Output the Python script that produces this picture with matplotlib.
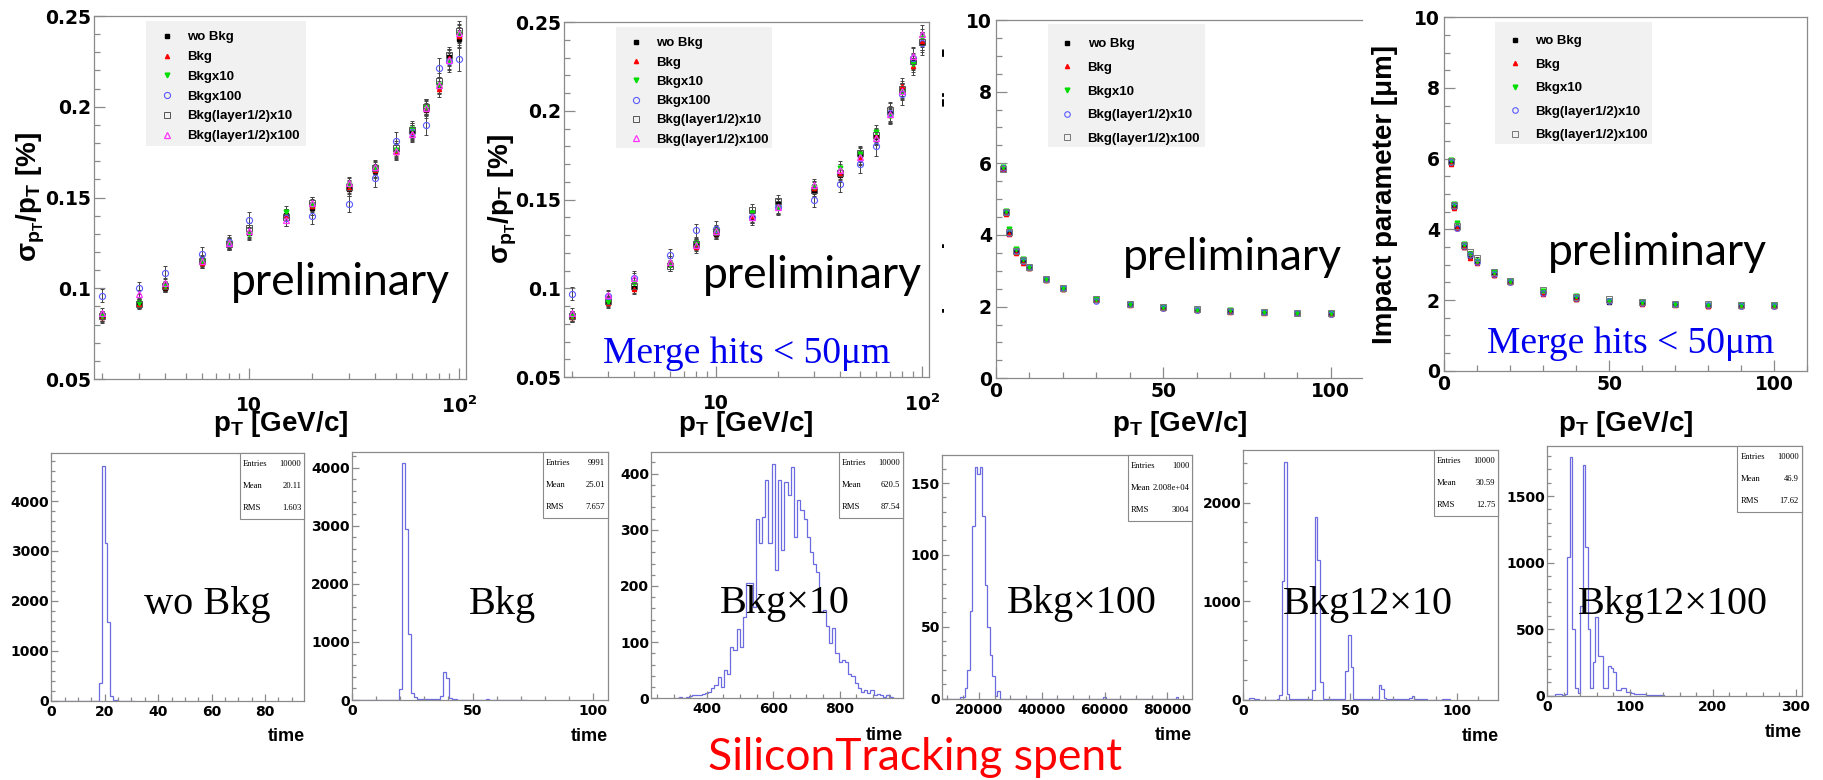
import numpy as np
import matplotlib
matplotlib.use("Agg")
import matplotlib.pyplot as plt
from matplotlib.patches import Rectangle
from matplotlib.transforms import Bbox, TransformedBbox
from matplotlib.ticker import (MultipleLocator, AutoMinorLocator, FixedLocator,
                               FixedFormatter, LogLocator, NullFormatter,
                               FormatStrFormatter)

plt.rcParams['font.family'] = ['Liberation Sans', 'DejaVu Sans']
plt.rcParams['font.weight'] = 'bold'
plt.rcParams['mathtext.fontset'] = 'custom'
plt.rcParams['mathtext.rm'] = 'Liberation Sans:bold'
plt.rcParams['mathtext.bf'] = 'Liberation Sans:bold'
plt.rcParams['mathtext.it'] = 'Liberation Sans:bold:italic'
plt.rcParams['mathtext.sf'] = 'DejaVu Sans:bold'

W, H = 1824, 780
FRAME = '#8a8a8a'
HIST = '#6b6bdf'
TICK_FONT = 'DejaVu Sans'

# ---- momentum points (GeV/c)
pt = [2, 3, 4, 6, 8, 10, 15, 20, 30, 40, 50, 60, 70, 80, 90, 100]

# ---- sigma(pT)/pT [%], default clustering
res1_wo = [0.0839, 0.0916, 0.1004, 0.1143, 0.1239, 0.1303, 0.1404, 0.1440, 0.1545, 0.1644, 0.1752, 0.1862, 0.1981, 0.2113, 0.2274, 0.2375]
res1_bkg = [0.0842, 0.0912, 0.1008, 0.1140, 0.1243, 0.1308, 0.1402, 0.1452, 0.1555, 0.1650, 0.1748, 0.1858, 0.1990, 0.2098, 0.2270, 0.2390]
res1_x10 = [0.0846, 0.0918, 0.1012, 0.1150, 0.1247, 0.1300, 0.1420, 0.1460, 0.1570, 0.1665, 0.1760, 0.1880, 0.2000, 0.2118, 0.2250, 0.2400]
res1_x100 = [0.0960, 0.1000, 0.1086, 0.1189, 0.1255, 0.1376, 0.1385, 0.1398, 0.1464, 0.1605, 0.1812, 0.1860, 0.1900, 0.2214, 0.2250, 0.2264]
res1_l10 = [0.0845, 0.0915, 0.1010, 0.1148, 0.1245, 0.1330, 0.1395, 0.1470, 0.1560, 0.1660, 0.1770, 0.1870, 0.2000, 0.2140, 0.2285, 0.2420]
res1_l100 = [0.0862, 0.0967, 0.1030, 0.1152, 0.1250, 0.1315, 0.1375, 0.1468, 0.1580, 0.1668, 0.1755, 0.1850, 0.1995, 0.2120, 0.2255, 0.2405]

# ---- sigma(pT)/pT [%], hits merged within 50 um
res2_wo = [0.0838, 0.0923, 0.1003, 0.1138, 0.1242, 0.1307, 0.1398, 0.1477, 0.1548, 0.1636, 0.1749, 0.1852, 0.1987, 0.2115, 0.2275, 0.2382]
res2_bkg = [0.0840, 0.0915, 0.0995, 0.1140, 0.1230, 0.1312, 0.1405, 0.1460, 0.1565, 0.1645, 0.1735, 0.1860, 0.1975, 0.2140, 0.2250, 0.2395]
res2_x10 = [0.0842, 0.0925, 0.1030, 0.1130, 0.1255, 0.1320, 0.1425, 0.1450, 0.1570, 0.1680, 0.1755, 0.1880, 0.1970, 0.2105, 0.2265, 0.2410]
res2_x100 = [0.0970, 0.0955, 0.1060, 0.1185, 0.1326, 0.1336, 0.1400, 0.1458, 0.1500, 0.1590, 0.1698, 0.1800, 0.1987, 0.2092, 0.2300, 0.2380]
res2_l10 = [0.0845, 0.0930, 0.1010, 0.1125, 0.1250, 0.1315, 0.1440, 0.1490, 0.1555, 0.1650, 0.1760, 0.1865, 0.2005, 0.2125, 0.2280, 0.2390]
res2_l100 = [0.0860, 0.0960, 0.1060, 0.1150, 0.1245, 0.1325, 0.1400, 0.1455, 0.1580, 0.1665, 0.1740, 0.1848, 0.1980, 0.2110, 0.2310, 0.2434]

res_err = [0.0028, 0.0026, 0.0027, 0.0030, 0.0030, 0.0032, 0.0033, 0.0034, 0.0035, 0.0037, 0.0039, 0.0040, 0.0042, 0.0044, 0.0046, 0.0050]
res_err_x100 = [0.0035, 0.0033, 0.0035, 0.0037, 0.0038, 0.0042, 0.0043, 0.0044, 0.0045, 0.0048, 0.0051, 0.0053, 0.0055, 0.0057, 0.0060, 0.0065]

# ---- impact parameter resolution [um], default clustering
ip1_wo = [5.86, 4.62, 4.05, 3.52, 3.26, 3.09, 2.74, 2.50, 2.19, 2.06, 1.97, 1.91, 1.88, 1.84, 1.82, 1.80]
ip1_bkg = [5.84, 4.58, 4.02, 3.50, 3.23, 3.08, 2.73, 2.50, 2.18, 2.05, 1.96, 1.90, 1.86, 1.83, 1.81, 1.80]
ip1_x10 = [5.91, 4.66, 4.16, 3.60, 3.32, 3.10, 2.78, 2.53, 2.21, 2.07, 1.98, 1.92, 1.90, 1.85, 1.83, 1.81]
ip1_l10 = [5.88, 4.64, 4.06, 3.55, 3.28, 3.10, 2.76, 2.52, 2.17, 2.06, 1.97, 1.92, 1.88, 1.85, 1.82, 1.80]
ip1_l100 = [5.85, 4.63, 4.08, 3.54, 3.29, 3.11, 2.77, 2.51, 2.20, 2.07, 1.98, 1.93, 1.89, 1.86, 1.83, 1.81]

# ---- impact parameter resolution [um], merged hits
ip2_wo = [5.87, 4.62, 4.03, 3.51, 3.25, 3.07, 2.71, 2.50, 2.19, 2.04, 1.95, 1.91, 1.88, 1.84, 1.83, 1.83]
ip2_bkg = [5.85, 4.60, 4.05, 3.50, 3.18, 3.06, 2.70, 2.51, 2.18, 2.03, 1.96, 1.90, 1.87, 1.83, 1.82, 1.83]
ip2_x10 = [5.96, 4.73, 4.17, 3.58, 3.30, 3.11, 2.80, 2.54, 2.26, 2.10, 1.98, 1.93, 1.89, 1.87, 1.85, 1.85]
ip2_l10 = [5.90, 4.65, 4.05, 3.53, 3.27, 3.08, 2.74, 2.52, 2.20, 2.06, 1.97, 1.91, 1.88, 1.85, 1.84, 1.83]
ip2_l100 = [5.92, 4.70, 4.10, 3.57, 3.37, 3.18, 2.78, 2.55, 2.28, 2.09, 2.03, 1.93, 1.90, 1.88, 1.87, 1.86]

ip_err = [0.04, 0.035, 0.03, 0.03, 0.025, 0.025, 0.02, 0.02, 0.02, 0.02, 0.02, 0.02, 0.02, 0.02, 0.02, 0.02]

names6 = ['wo Bkg', 'Bkg', 'Bkgx10', 'Bkgx100', 'Bkg(layer1/2)x10', 'Bkg(layer1/2)x100']
names5 = ['wo Bkg', 'Bkg', 'Bkgx10', 'Bkg(layer1/2)x10', 'Bkg(layer1/2)x100']

# ---- SiliconTracking time histograms (bin start, bin width, counts)
h1_start, h1_width = 0.0, 1.0
h1_counts = [0, 0, 3, 4, 2, 0, 1, 0, 0, 0, 0, 0, 0, 0, 0, 0, 0, 2, 353, 4700,
             3170, 1590, 100, 30, 12, 6, 4, 3, 2, 0, 1]

h2_start, h2_width = 0.5, 1.2
h2_counts = [0, 0, 2, 5, 3, 1, 0, 0, 0, 0, 0, 0, 0, 0, 0, 0, 184, 4074, 2943, 1130,
             115, 57, 25, 20, 18, 15, 12, 10, 10, 12, 69, 476, 373, 29, 15, 10, 8, 6, 5, 5,
             4, 3, 3, 2, 4, 8, 10, 8, 5, 3, 2, 1, 1, 2, 3, 2, 1, 2, 3, 1]

h3_start, h3_width = 307.4, 9.6
h3_counts = [1, 2, 0, 3, 4, 5, 6, 5, 8, 10, 12,
             18, 24, 38, 21, 50, 44, 92, 86, 123, 92, 145, 205, 206, 163, 320, 276, 323, 389, 276,
             418, 228, 389, 264, 386, 362, 412, 288, 353, 335, 320, 288, 261, 240, 225, 154, 157, 128,
             98, 125, 80, 65, 68, 65, 44, 40, 27, 18, 12, 15, 9, 14, 6, 8, 6, 3, 6, 2]

h4_start, h4_width = 8300.0, 800.0
h4_counts = ([0, 0, 0, 0, 0, 0, 0, 1, 1, 7, 20, 61, 120, 161, 156, 161, 127, 79, 50, 30, 16, 2, 5]
             + [0] * 41 + [1] + [0] * 28 + [1])

h5_start, h5_width = 0.0, 1.194
h5_counts = [0, 0, 17, 15, 10, 2, 0, 0, 0, 0, 0, 0, 0, 3, 44, 1200, 2414, 60, 8, 5,
             4, 3, 3, 2, 2, 3, 5, 100, 1860, 1420, 180, 7, 4, 3, 2, 2, 2, 3, 5, 10,
             291, 654, 332, 10, 4, 3, 2, 2, 2, 2, 3, 5, 10, 146, 102, 17, 4, 3, 2, 2,
             2, 2, 3, 5, 8, 15, 34, 8, 3, 2, 1, 1, 0, 0, 0, 0, 0, 0, 2, 3, 1]

h6_start, h6_width = 0.0, 3.076
h6_counts = [0, 0, 0, 15, 12, 8, 5, 10, 1040, 1790, 500, 55, 20, 670, 1735, 1120, 500, 60, 250, 590,
             300, 300, 60, 60, 220, 210, 180, 40, 40, 60, 55, 30, 25, 20, 15, 12, 10, 8, 8, 6,
             5, 5, 4, 3, 3, 2]

stats_labels = ['Entries', 'Mean', 'RMS']
h1_stats = ['10000', '20.11', '1.603']
h2_stats = ['9991', '25.01', '7.657']
h3_stats = ['10000', '620.5', '87.54']
h4_stats = ['1000', '2.008e+04', '3004']
h5_stats = ['10000', '30.59', '12.75']
h6_stats = ['10000', '46.9', '17.62']


def rect(l, t, r, b):
    return [l / W, 1 - b / H, (r - l) / W, (b - t) / H]


def fx(x):
    return x / W


def fy(y):
    return 1 - y / H


def style_axes(ax, size, major, minor, xpad, ypad):
    for s in ax.spines.values():
        s.set_color(FRAME)
        s.set_linewidth(0.9)
    ax.tick_params(which='both', direction='in', top=False, right=False,
                   color=FRAME, width=0.9, labelsize=size, labelfontfamily=TICK_FONT)
    ax.tick_params(which='major', length=major)
    ax.tick_params(which='minor', length=minor)
    ax.tick_params(axis='x', pad=xpad)
    ax.tick_params(axis='y', pad=ypad)


fig = plt.figure(figsize=(W / 100, H / 100), dpi=100)

style6 = [dict(marker='s', ms=2.8, mfc='black', mec='black'),
          dict(marker='^', ms=3.0, mfc='red', mec='red'),
          dict(marker='v', ms=3.4, mfc='#00dd00', mec='#00dd00'),
          dict(marker='o', ms=4.4, mfc='none', mec='#5a5aff', mew=0.8),
          dict(marker='s', ms=4.0, mfc='none', mec='#555555', mew=0.7),
          dict(marker='^', ms=4.6, mfc='none', mec='#ff33ff', mew=0.9)]
style5 = [style6[0], style6[1], style6[2],
          dict(marker='o', ms=4.0, mfc='none', mec='#5a5aff', mew=0.8),
          dict(marker='s', ms=4.0, mfc='none', mec='#777777', mew=0.7)]

LEG_FS = 9.5
FS_PX = LEG_FS * 100 / 72


def root_legend(ax, marker_x, row1_y, spacing, frame):
    l, t, r, b = frame
    fig.add_artist(Rectangle((fx(l), fy(b)), (r - l) / W, (b - t) / H,
                             transform=fig.transFigure, facecolor='#f1f1f1',
                             edgecolor='none', zorder=1))
    handles, labels = ax.get_legend_handles_labels()
    fig.legend(handles, labels, loc='upper left',
               bbox_to_anchor=(fx(marker_x - 0.5 * FS_PX), fy(row1_y - 0.5)),
               bbox_transform=fig.transFigure, frameon=False, borderpad=0,
               borderaxespad=0, handlelength=1.0, handletextpad=1.04,
               labelspacing=spacing,
               prop=dict(family='Liberation Sans', weight='bold', size=LEG_FS))


def draw_points(ax, series, names, styles, errs):
    for vals, name, st, e in zip(series, names, styles, errs):
        ax.errorbar(pt, vals, yerr=e, fmt='none', ecolor='#444444',
                    elinewidth=0.7, capsize=1.5, capthick=0.7, zorder=2)
        ax.plot(pt, vals, ls='none', label=name, zorder=3, **st)


def sigma_axes(box):
    ax = fig.add_axes(rect(*box))
    ax.set_xscale('log')
    ax.set_xlim(1.83, 108)
    ax.set_ylim(0.05, 0.25)
    ax.xaxis.set_major_locator(FixedLocator([10, 100]))
    ax.xaxis.set_major_formatter(FixedFormatter(['10', r'$\mathsf{10^{2}}$']))
    ax.xaxis.set_minor_locator(LogLocator(base=10, subs=range(2, 10)))
    ax.xaxis.set_minor_formatter(NullFormatter())
    ax.yaxis.set_major_locator(MultipleLocator(0.05))
    ax.yaxis.set_minor_locator(MultipleLocator(0.01))
    ax.yaxis.set_major_formatter(FormatStrFormatter('%g'))
    style_axes(ax, 13.5, 8, 4.5, 12, 2.4)
    return ax


def ip_axes(box, xmax):
    ax = fig.add_axes(rect(*box))
    ax.set_xlim(0, xmax)
    ax.set_ylim(0, 10)
    ax.xaxis.set_major_locator(MultipleLocator(50))
    ax.xaxis.set_minor_locator(MultipleLocator(10))
    ax.yaxis.set_major_locator(MultipleLocator(2))
    ax.yaxis.set_minor_locator(MultipleLocator(0.5))
    ax.xaxis.set_major_formatter(FormatStrFormatter('%g'))
    ax.yaxis.set_major_formatter(FormatStrFormatter('%g'))
    style_axes(ax, 13.5, 8, 4.5, 3, 3)
    return ax


sigma_ylabel = r'σ$_{\mathrm{p_{T}}}$/p$_{\mathrm{T}}$ [%]'
pt_xlabel = r'p$_{\mathrm{T}}$ [GeV/c]'
ip_ylabel = 'Impact parameter [μm]'

# ---- top row: momentum resolution
ax1 = sigma_axes((94, 16, 466, 379))
draw_points(ax1, [res1_wo, res1_bkg, res1_x10, res1_x100, res1_l10, res1_l100],
            names6, style6, [res_err, res_err, res_err, res_err_x100, res_err, res_err])
root_legend(ax1, 166.7, 31.7, 0.57, (146, 20.7, 306, 145.7))

ax2 = sigma_axes((564, 22, 929, 377))
draw_points(ax2, [res2_wo, res2_bkg, res2_x10, res2_x100, res2_l10, res2_l100],
            names6, style6, [res_err, res_err, res_err, res_err_x100, res_err, res_err])
root_legend(ax2, 636, 37.7, 0.53, (616, 27.3, 772.3, 148.3))

# ---- top row: impact parameter
ax3 = ip_axes((996, 20, 1362, 378.3), 109.3)
ax3.spines['right'].set_visible(False)
draw_points(ax3, [ip1_wo, ip1_bkg, ip1_x10, ip1_l10, ip1_l100], names5, style5, [ip_err] * 5)
root_legend(ax3, 1067.3, 38.7, 0.86, (1047.7, 24.3, 1205, 147.3))

ax4 = ip_axes((1444, 17.3, 1807.3, 370.7), 110)
draw_points(ax4, [ip2_wo, ip2_bkg, ip2_x10, ip2_l10, ip2_l100], names5, style5, [ip_err] * 5)
root_legend(ax4, 1515, 35.7, 0.85, (1495.3, 22.3, 1651.7, 144))

# axis titles
for xr in [348, 813, 1246.7, 1693.3]:
    fig.text(fx(xr), fy(431), pt_xlabel, ha='right', va='baseline', size=20)
fig.text(fx(31), fy(197), sigma_ylabel, rotation=90, ha='center', va='center', size=20)
fig.text(fx(503), fy(199), sigma_ylabel, rotation=90, ha='center', va='center', size=20)
fig.text(fx(1384.5), fy(194), ip_ylabel, rotation=90, ha='center', va='center', size=20)
# the third panel's title is mostly hidden behind the panel next to it
hidden = fig.text(fx(932), fy(197), ip_ylabel, rotation=90, ha='center', va='center', size=20)
hidden.set_clip_box(TransformedBbox(Bbox.from_extents(942 / W, 0, 990 / W, 1), fig.transFigure))
hidden.set_clip_on(True)

for x, y in [(231, 295), (703, 288), (1122.7, 270), (1548, 265)]:
    fig.text(fx(x), fy(y), 'preliminary', family='Lato', weight='normal',
             size=32, va='baseline')
for x, y in [(603, 363), (1487, 353)]:
    fig.text(fx(x), fy(y), 'Merge hits < 50μm', family='Liberation Serif',
             weight='normal', size=27, color='#0000ee', va='baseline')


# ---- bottom row: time spent in SiliconTracking
def time_hist(box, start, width, counts, xlim, ylim, xmaj, xmin_n, ymaj, ymin_n,
              stats, name, name_xy, time_y):
    l, t, r, b = box
    ax = fig.add_axes(rect(*box))
    edges = start + width * np.arange(len(counts) + 1)
    ax.stairs(counts, edges, color=HIST, linewidth=0.9)
    ax.set_xlim(*xlim)
    ax.set_ylim(*ylim)
    ax.xaxis.set_major_locator(MultipleLocator(xmaj))
    ax.xaxis.set_minor_locator(AutoMinorLocator(xmin_n))
    ax.yaxis.set_major_locator(MultipleLocator(ymaj))
    ax.yaxis.set_minor_locator(AutoMinorLocator(ymin_n))
    ax.xaxis.set_major_formatter(FormatStrFormatter('%g'))
    ax.yaxis.set_major_formatter(FormatStrFormatter('%g'))
    style_axes(ax, 10, 5, 2.6, 3, 1.5)

    bw, bh = 64.5, 66
    fig.add_artist(Rectangle((fx(r - bw), fy(t + bh)), bw / W, bh / H,
                             transform=fig.transFigure, facecolor='white',
                             edgecolor=FRAME, linewidth=0.8, zorder=1))
    for i, (key, val) in enumerate(zip(stats_labels, stats)):
        yy = t + bh * (2 * i + 1) / 6
        fig.text(fx(r - bw + 3), fy(yy), key, family='Liberation Serif',
                 weight='normal', size=6.2, va='center')
        fig.text(fx(r - 3), fy(yy), val, family='Liberation Serif',
                 weight='normal', size=6.2, va='center', ha='right')
    fig.text(fx(name_xy[0]), fy(name_xy[1]), name, family='Liberation Serif',
             weight='normal', size=29, va='baseline')
    fig.text(fx(r), fy(time_y), 'time', ha='right', va='baseline', size=13)
    return ax


time_hist((51.4, 453.3, 304.5, 701), h1_start, h1_width, h1_counts, (0, 94.8), (0, 4954),
          20, 4, 1000, 5, h1_stats, 'wo Bkg', (144.3, 614), 741)
time_hist((351.9, 452.3, 607.7, 700), h2_start, h2_width, h2_counts, (0, 106), (0, 4264),
          50, 5, 1000, 5, h2_stats, 'Bkg', (468.6, 614), 741)
time_hist((651.4, 452.3, 903.3, 698.3), h3_start, h3_width, h3_counts, (233, 992), (0, 438),
          200, 4, 100, 5, h3_stats, 'Bkg×10', (720, 613), 740)
time_hist((942, 455, 1192.3, 698.5), h4_start, h4_width, h4_counts, (8300, 87900), (0, 169.5),
          20000, 4, 50, 5, h4_stats, 'Bkg×100', (1007.3, 613), 740)
time_hist((1243.5, 450, 1498.5, 699.5), h5_start, h5_width, h5_counts, (0, 119.4), (0, 2536),
          50, 5, 1000, 5, h5_stats, 'Bkg12×10', (1283, 614), 741)
time_hist((1547, 446, 1802, 695.5), h6_start, h6_width, h6_counts, (0, 307.6), (0, 1876),
          100, 5, 500, 5, h6_stats, 'Bkg12×100', (1577.6, 614), 737)

fig.text(fx(708), fy(770), 'SiliconTracking spent', family='Lato', weight='normal',
         size=32, color='red', va='baseline')

fig.savefig('out.png', dpi=100, facecolor='white')
